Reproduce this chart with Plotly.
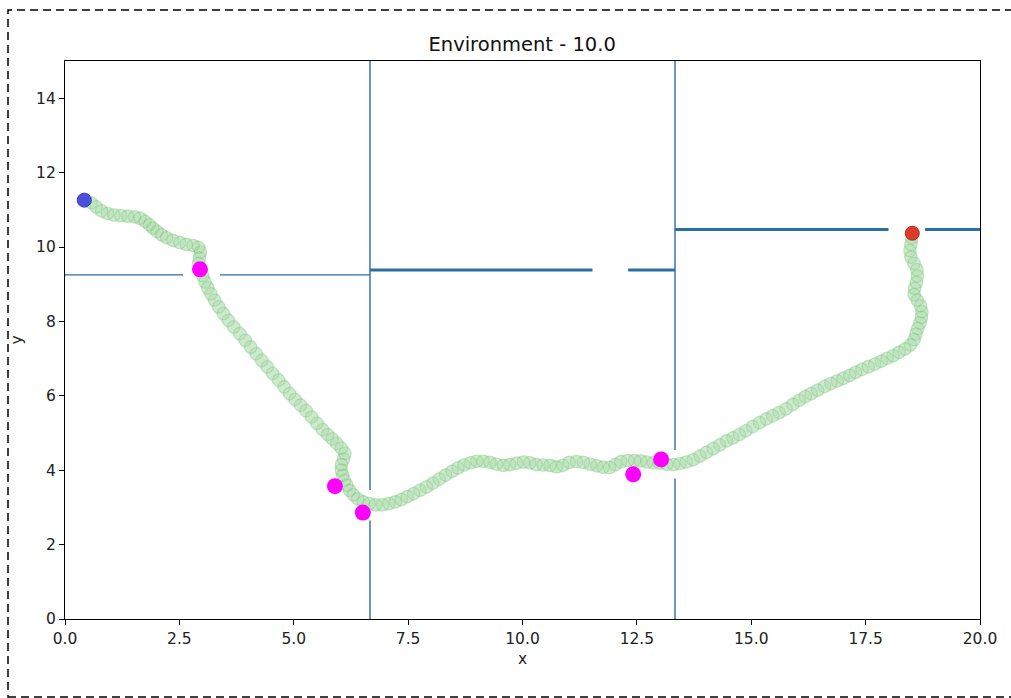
import plotly.graph_objects as go

# Trajectory of the agent through the environment
path_x = [0.45, 0.57, 0.68, 0.80, 0.93, 1.07, 1.22, 1.37, 1.52, 1.64, 1.75, 1.84, 1.92, 2.01,
          2.11, 2.22, 2.36, 2.51, 2.65, 2.80, 2.92, 2.96, 2.94, 2.92, 2.96, 3.01, 3.06, 3.12,
          3.19, 3.27, 3.36, 3.46, 3.57, 3.69, 3.82, 3.94, 4.06, 4.18, 4.30, 4.42, 4.54, 4.67,
          4.79, 4.91, 5.03, 5.15, 5.27, 5.39, 5.51, 5.63, 5.74, 5.84, 5.94, 6.04, 6.12, 6.09,
          6.04, 6.04, 6.07, 6.11, 6.16, 6.22, 6.30, 6.40, 6.52, 6.65, 6.79, 6.94, 7.08, 7.22,
          7.35, 7.48, 7.62, 7.76, 7.90, 8.04, 8.18, 8.32, 8.46, 8.59, 8.72, 8.86, 9.00, 9.14,
          9.29, 9.43, 9.58, 9.72, 9.87, 10.02, 10.16, 10.30, 10.45, 10.60, 10.74, 10.88, 11.02,
          11.18, 11.33, 11.48, 11.62, 11.76, 11.90, 12.03, 12.15, 12.30, 12.45, 12.58, 12.72,
          12.86, 13.00, 13.15, 13.30, 13.44, 13.58, 13.73, 13.88, 14.02, 14.17, 14.31, 14.46,
          14.60, 14.74, 14.88, 15.03, 15.18, 15.33, 15.47, 15.61, 15.76, 15.91, 16.05, 16.18,
          16.31, 16.45, 16.60, 16.74, 16.88, 17.01, 17.15, 17.28, 17.42, 17.56, 17.70, 17.84,
          17.97, 18.10, 18.23, 18.36, 18.48, 18.56, 18.60, 18.64, 18.69, 18.72, 18.73, 18.70,
          18.63, 18.56, 18.57, 18.61, 18.63, 18.62, 18.56, 18.49, 18.47, 18.49, 18.51, 18.52]
path_y = [11.25, 11.19, 11.08, 10.97, 10.90, 10.86, 10.84, 10.83, 10.81, 10.77, 10.69, 10.60,
          10.51, 10.42, 10.33, 10.25, 10.18, 10.12, 10.07, 10.04, 9.99, 9.86, 9.71, 9.56, 9.40,
          9.23, 9.06, 8.90, 8.74, 8.57, 8.39, 8.21, 8.03, 7.85, 7.67, 7.49, 7.31, 7.13, 6.95,
          6.78, 6.60, 6.42, 6.24, 6.06, 5.90, 5.75, 5.60, 5.43, 5.26, 5.09, 4.96, 4.84, 4.72,
          4.59, 4.45, 4.30, 4.15, 4.00, 3.86, 3.73, 3.60, 3.46, 3.34, 3.23, 3.15, 3.10, 3.07,
          3.07, 3.10, 3.15, 3.21, 3.29, 3.37, 3.46, 3.55, 3.65, 3.76, 3.87, 3.97, 4.06, 4.14,
          4.20, 4.24, 4.24, 4.21, 4.16, 4.13, 4.15, 4.19, 4.22, 4.20, 4.15, 4.14, 4.13, 4.09,
          4.13, 4.21, 4.23, 4.21, 4.16, 4.12, 4.08, 4.07, 4.15, 4.23, 4.26, 4.26, 4.25, 4.22,
          4.20, 4.19, 4.16, 4.15, 4.18, 4.22, 4.28, 4.38, 4.48, 4.58, 4.68, 4.79, 4.87, 4.96,
          5.06, 5.17, 5.28, 5.38, 5.46, 5.55, 5.65, 5.77, 5.88, 5.98, 6.06, 6.15, 6.25, 6.33,
          6.40, 6.47, 6.55, 6.63, 6.71, 6.78, 6.85, 6.93, 7.01, 7.08, 7.17, 7.26, 7.37, 7.51,
          7.66, 7.81, 7.96, 8.11, 8.26, 8.42, 8.57, 8.72, 8.89, 9.05, 9.22, 9.39, 9.56, 9.73,
          9.90, 10.07, 10.24, 10.37]

start_x, start_y = [0.42], [11.26]
goal_x, goal_y = [18.52], [10.37]

# Sub-goal waypoints
waypoint_x = [2.95, 5.90, 6.51, 12.42, 13.03]
waypoint_y = [9.40, 3.57, 2.86, 3.89, 4.29]

# Wall segments (x0, y0, x1, y1), with door openings left out
thin_walls = [
    (0.0, 9.25, 2.58, 9.25),
    (3.39, 9.25, 20 / 3, 9.25),
    (20 / 3, 0.0, 20 / 3, 2.65),
    (20 / 3, 3.47, 20 / 3, 15.0),
    (40 / 3, 0.0, 40 / 3, 3.78),
    (40 / 3, 4.54, 40 / 3, 15.0),
]
thick_walls = [
    (20 / 3, 9.38, 11.53, 9.38),
    (12.31, 9.38, 40 / 3, 9.38),
    (40 / 3, 10.47, 18.0, 10.47),
    (18.8, 10.47, 20.0, 10.47),
]

title_text = "Environment - 10.0"
x_ticks = [0, 2.5, 5, 7.5, 10, 12.5, 15, 17.5, 20]
y_ticks = [0, 2, 4, 6, 8, 10, 12, 14]


def segments_to_xy(segs):
    xs, ys = [], []
    for x0, y0, x1, y1 in segs:
        xs += [x0, x1, None]
        ys += [y0, y1, None]
    return xs, ys


WALL = "#2a6fa3"
fig = go.Figure()

wx, wy = segments_to_xy(thin_walls)
fig.add_trace(go.Scatter(x=wx, y=wy, mode="lines", line=dict(color=WALL, width=1.4),
                         hoverinfo="skip"))
wx, wy = segments_to_xy(thick_walls)
fig.add_trace(go.Scatter(x=wx, y=wy, mode="lines", line=dict(color=WALL, width=3),
                         hoverinfo="skip"))

# Trajectory: a soft band under the individual position markers
fig.add_trace(go.Scatter(
    x=path_x, y=path_y, mode="lines",
    line=dict(color="rgba(44,160,44,0.16)", width=13, shape="spline", smoothing=0.6),
    hoverinfo="skip",
))
fig.add_trace(go.Scatter(
    x=path_x, y=path_y, mode="markers",
    marker=dict(size=12.5, color="rgba(44,160,44,0.08)",
                line=dict(color="rgba(44,160,44,0.17)", width=1.2)),
))

fig.add_trace(go.Scatter(
    x=start_x, y=start_y, mode="markers",
    marker=dict(size=14, color="#4a4fe0", line=dict(color="#3a3fb8", width=1)),
))
fig.add_trace(go.Scatter(
    x=goal_x, y=goal_y, mode="markers",
    marker=dict(size=14, color="#dc3a2a", line=dict(color="#b83020", width=1)),
))
fig.add_trace(go.Scatter(
    x=waypoint_x, y=waypoint_y, mode="markers",
    marker=dict(size=16, color="#ff00ff", line=dict(width=0)),
))

FONT = "DejaVu Sans"
axis_common = dict(
    showgrid=False, zeroline=False, showline=True, mirror=True,
    linecolor="black", linewidth=1.3, ticks="outside", ticklen=5,
    tickwidth=1.2, tickcolor="black",
    tickfont=dict(family=FONT, size=15.5, color="#222"),
)

fig.update_layout(
    width=1011, height=698,
    margin=dict(l=65, r=31, t=61, b=79),
    paper_bgcolor="white", plot_bgcolor="white",
    showlegend=False,
    title=dict(text=title_text, x=0.5165, xanchor="center",
               y=1 - 44 / 698, yref="container", yanchor="middle",
               font=dict(family=FONT, size=19.5, color="#111")),
    xaxis=dict(range=[0, 20], tickvals=x_ticks,
               ticktext=[f"{v:.1f}" for v in x_ticks],
               title=dict(text="x", standoff=6,
                          font=dict(family=FONT, size=15.5, color="#222")),
               **axis_common),
    yaxis=dict(range=[0, 15], tickvals=y_ticks,
               ticktext=[str(v) for v in y_ticks],
               title=dict(text="y", standoff=9,
                          font=dict(family=FONT, size=15.5, color="#222")),
               **axis_common),
)

# Dashed frame around the figure
fig.add_shape(type="rect", xref="paper", yref="paper",
              x0=(8 - 65) / 915, x1=(1025 - 65) / 915,
              y0=(619 - 697) / 558, y1=(619 - 10) / 558,
              line=dict(color="black", width=1.5, dash="8px,5px"),
              fillcolor="rgba(0,0,0,0)", layer="above")

fig.write_html("out.html")
